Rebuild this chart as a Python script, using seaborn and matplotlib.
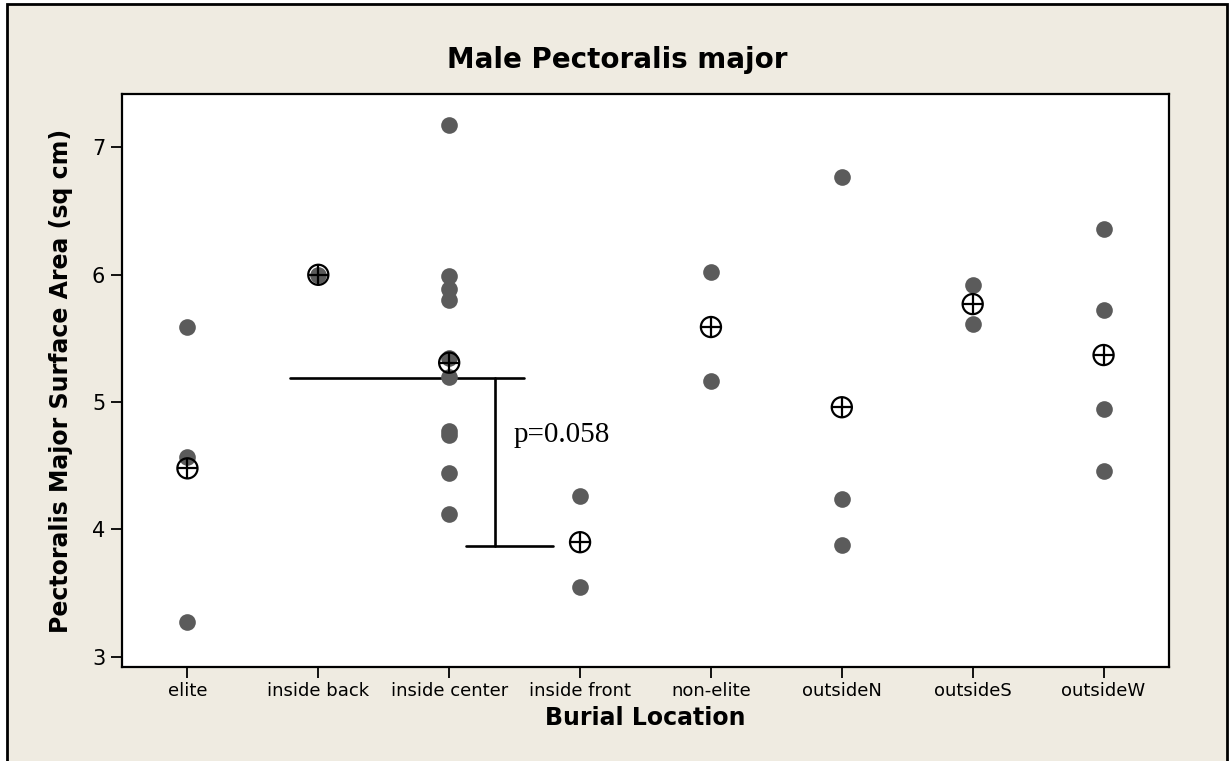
import pandas as pd
import numpy as np
import seaborn as sns
import matplotlib.pyplot as plt
from matplotlib.patches import Rectangle

# values (sq cm)
categories = ["elite", "inside back", "inside center", "inside front",
              "non-elite", "outsideN", "outsideS", "outsideW"]
elite = [5.59, 4.57, 3.27]
inside_back = [6.00]
inside_center = [7.18, 5.99, 5.89, 5.80, 5.35, 5.20, 4.77, 4.74, 4.44, 4.12]
inside_front = [4.26, 3.55]
non_elite = [6.02, 5.17]
outside_n = [6.77, 4.24, 3.88]
outside_s = [5.92, 5.61]
outside_w = [6.36, 5.72, 4.95, 4.46]
group_means = [4.48, 6.00, 5.31, 3.90, 5.59, 4.96, 5.77, 5.37]

# p-value bracket between inside center and inside front
p_text = "p=0.058"
bracket_high = 5.19
bracket_low = 3.87

groups = [elite, inside_back, inside_center, inside_front,
          non_elite, outside_n, outside_s, outside_w]
df = pd.DataFrame({
    "location": np.repeat(categories, [len(g) for g in groups]),
    "area": np.concatenate(groups),
})
means_df = pd.DataFrame({"location": categories, "area": group_means})

sns.set_style("white")
plt.rcParams["font.family"] = ["DejaVu Sans"]
plt.rcParams["text.color"] = "black"
plt.rcParams["axes.labelcolor"] = "black"
plt.rcParams["xtick.color"] = "black"
plt.rcParams["ytick.color"] = "black"

fig = plt.figure(figsize=(12.31, 7.61), dpi=100)
fig.patch.set_facecolor("white")
# beige panel with black frame, as in the original page
fig.patches.append(Rectangle((7 / 1231, -0.05), 1220 / 1231, 1.05 - 4 / 761,
                             transform=fig.transFigure, facecolor="#EFEBE1",
                             edgecolor="black", linewidth=2, zorder=-5))

ax = fig.add_axes([122 / 1231, 94 / 761, 1047 / 1231, 573 / 761])
ax.set_facecolor("white")

# individual values
sns.stripplot(data=df, x="location", y="area", order=categories,
              jitter=False, color="#5b5b5b", size=12, linewidth=0, ax=ax)

# mean symbols (circle with a cross)
n_before = len(ax.collections)
sns.stripplot(data=means_df, x="location", y="area", order=categories,
              jitter=False, color="black", size=14.5, linewidth=1.6, ax=ax)
for coll in ax.collections[n_before:]:
    coll.set_facecolor("none")
    coll.set_edgecolor("black")
sns.stripplot(data=means_df, x="location", y="area", order=categories,
              jitter=False, color="black", marker="+", size=14.5,
              linewidth=1.6, ax=ax)

# bracket
ax.plot([0.78, 2.57], [bracket_high, bracket_high], color="black", lw=1.9)
ax.plot([2.35, 2.35], [bracket_high, bracket_low], color="black", lw=1.9)
ax.plot([2.13, 2.79], [bracket_low, bracket_low], color="black", lw=1.9)
ax.text(2.49, 4.74, p_text, fontsize=21, va="center", ha="left",
        family=["Liberation Serif"])

ax.set_xlim(-0.5, 7.5)
ax.set_ylim(2.92, 7.42)
ax.set_yticks([3, 4, 5, 6, 7])

for side in ["left", "right", "top", "bottom"]:
    ax.spines[side].set_visible(True)
    ax.spines[side].set_color("black")
    ax.spines[side].set_linewidth(1.6)

ax.tick_params(axis="y", direction="out", length=8, width=1.3,
               labelsize=15, left=True, pad=4)
ax.tick_params(axis="x", direction="out", length=8, width=1.3,
               labelsize=13, bottom=True, pad=3)

ax.set_xlabel("Burial Location", fontsize=17, fontweight="bold")
ax.set_ylabel("Pectoralis Major Surface Area (sq cm)", fontsize=17,
              fontweight="bold")
ax.xaxis.set_label_coords(0.5, -0.068)
ax.yaxis.set_label_coords(-0.047, 0.5)

fig.text(617 / 1231, 1 - 60 / 761, "Male Pectoralis major", fontsize=20,
         fontweight="bold", ha="center", va="center")

plt.savefig("out.png", dpi=100, facecolor=fig.get_facecolor())
